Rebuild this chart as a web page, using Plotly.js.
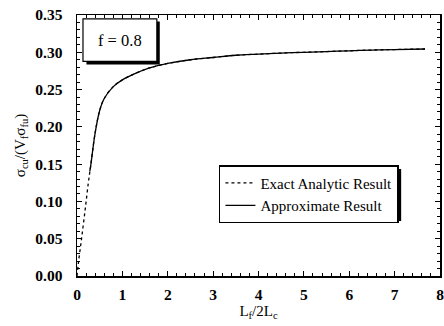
<!DOCTYPE html>
<html>
<head>
<meta charset="utf-8">
<script src="https://cdn.plot.ly/plotly-3.0.1.min.js"></script>
<style>html,body{margin:0;padding:0;background:#fff;}#chart{width:444px;height:326px;}</style>
</head>
<body>
<div id="chart"></div>
<script>
// Data
var xExact = [0, 0.03, 0.1, 0.18, 0.25, 0.3, 0.4, 0.5, 0.6, 0.8, 1.0, 1.3, 1.6, 2.0, 2.5, 3.0, 3.5, 4.0, 4.5, 5.0, 5.5, 6.0, 6.5, 7.0, 7.67];
var yExact = [0, 0.017, 0.05, 0.089, 0.125, 0.147, 0.192, 0.222, 0.238, 0.254, 0.263, 0.272, 0.279, 0.285, 0.290, 0.293, 0.296, 0.2975, 0.299, 0.300, 0.301, 0.302, 0.303, 0.3037, 0.3044];
var xApprox = [0.28, 0.3, 0.4, 0.5, 0.6, 0.8, 1.0, 1.3, 1.6, 2.0, 2.5, 3.0, 3.5, 4.0, 4.5, 5.0, 5.5, 6.0, 6.5, 7.0, 7.67];
var yApprox = [0.14, 0.147, 0.192, 0.222, 0.238, 0.254, 0.263, 0.272, 0.279, 0.285, 0.290, 0.293, 0.296, 0.2975, 0.299, 0.300, 0.301, 0.302, 0.303, 0.3037, 0.3044];
var seriesNames = ["Exact Analytic Result", "Approximate Result"];
var xTicks = [0, 1, 2, 3, 4, 5, 6, 7, 8];
var yTicks = [0, 0.05, 0.10, 0.15, 0.20, 0.25, 0.30, 0.35];
var boxLabel = "f = 0.8";

var serif = "Liberation Serif, Times New Roman, serif";
var traces = [
  {x: xExact, y: yExact, name: seriesNames[0], mode: "lines",
   line: {color: "#000", width: 1.3, dash: "3px,3px", shape: "spline"}},
  {x: xApprox, y: yApprox, name: seriesNames[1], mode: "lines",
   line: {color: "#000", width: 1.3, shape: "spline"}},
  // invisible copy so the mirrored (top/right) axes are drawn
  {x: xExact, y: yExact, xaxis: "x2", yaxis: "y2", mode: "lines", showlegend: false,
   hoverinfo: "skip", opacity: 0, line: {color: "rgba(0,0,0,0)"}}
];

var tickFont = {family: serif, size: 15.5, color: "#000", weight: 700};
var axisCommon = {
  showline: true, linecolor: "#000", linewidth: 1.5,
  ticks: "inside", ticklen: 5, tickwidth: 1.2, tickcolor: "#000",
  showgrid: false, zeroline: false, tickfont: tickFont, ticklabeloverflow: "allow"
};

var layout = {
  width: 444, height: 326,
  margin: {l: 77, r: 4, t: 15, b: 50},
  paper_bgcolor: "#fff", plot_bgcolor: "#fff",
  showlegend: true,
  xaxis: Object.assign({}, axisCommon, {
    range: [0, 8], tickvals: xTicks, ticklabelstandoff: 4,
    minor: {dtick: 0.2, ticks: "inside", ticklen: 3, tickcolor: "#000", tickwidth: 1},
    title: {text: "L<sub>f</sub>/2L<sub>c</sub>", standoff: 0, font: {family: serif, size: 15, color: "#000"}}
  }),
  yaxis: Object.assign({}, axisCommon, {
    range: [0, 0.35], tickvals: yTicks, tickformat: ".2f", ticklabelstandoff: 10,
    minor: {dtick: 0.01, ticks: "inside", ticklen: 3, tickcolor: "#000", tickwidth: 1},
    title: {text: "σ<sub>cu</sub>/(V<sub>f</sub>σ<sub>fu</sub>)", standoff: 6, font: {family: serif, size: 15, color: "#000"}}
  }),
  xaxis2: Object.assign({}, axisCommon, {
    overlaying: "x", side: "top", range: [0, 8], tickvals: xTicks, showticklabels: false,
    minor: {dtick: 0.2, ticks: "inside", ticklen: 3, tickcolor: "#000", tickwidth: 1}
  }),
  yaxis2: Object.assign({}, axisCommon, {
    overlaying: "y", side: "right", range: [0, 0.35], tickvals: yTicks, showticklabels: false,
    minor: {dtick: 0.01, ticks: "inside", ticklen: 3, tickcolor: "#000", tickwidth: 1}
  }),
  legend: {
    x: 0.391, y: 0.425, xanchor: "left", yanchor: "top",
    bgcolor: "#fff", bordercolor: "#000", borderwidth: 1.5,
    font: {family: serif, size: 15, color: "#000"},
    tracegroupgap: 0, itemwidth: 30
  },
  shapes: [
    // legend shadow
    {type: "rect", xref: "paper", yref: "paper", x0: 0.40, x1: 0.893, y0: 0.211, y1: 0.41,
     fillcolor: "#000", line: {width: 0}, layer: "above"},
    // f box shadow
    {type: "rect", xref: "paper", yref: "paper", x0: 0.026, x1: 0.228, y0: 0.81, y1: 0.975,
     fillcolor: "#000", line: {width: 0}, layer: "above"},
    // f box
    {type: "rect", xref: "paper", yref: "paper", x0: 0.0165, x1: 0.22, y0: 0.822, y1: 0.985,
     fillcolor: "#fff", line: {color: "#000", width: 1.2}, layer: "above"}
  ],
  annotations: [
    {xref: "paper", yref: "paper", x: 0.118, y: 0.903, text: boxLabel, showarrow: false,
     xanchor: "center", yanchor: "middle", font: {family: serif, size: 16.5, color: "#000"}}
  ]
};

Plotly.newPlot("chart", traces, layout, {displayModeBar: false, staticPlot: true});
</script>
</body>
</html>
